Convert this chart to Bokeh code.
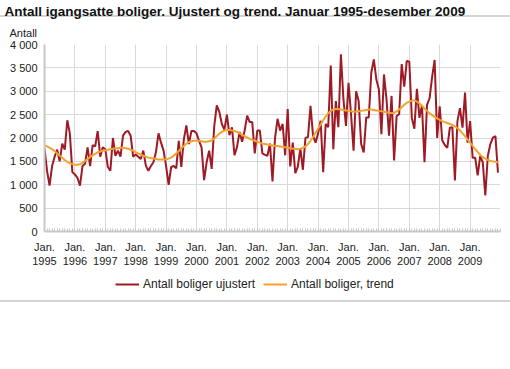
from bokeh.plotting import figure
from bokeh.layouts import column
from bokeh.models import Range1d, FixedTicker, Legend, LegendItem, Title
from bokeh.embed import file_html
from bokeh.resources import INLINE

title_text = "Antall igangsatte boliger. Ujustert og trend. Januar 1995-desember 2009"
y_title = "Antall"
years = list(range(1995, 2010))
x_tick_labels = ["Jan.\n" + str(y) for y in years]
y_ticks = [0, 500, 1000, 1500, 2000, 2500, 3000, 3500, 4000]
y_tick_labels = ["0", "500", "1 000", "1 500", "2 000", "2 500", "3 000", "3 500", "4 000"]
series_names = ["Antall boliger ujustert", "Antall boliger, trend"]

ujustert = [
    1780, 1300, 980, 1400, 1600, 1750, 1500, 1880, 1750, 2380, 2100, 1270,
    1220, 1150, 980, 1400, 1450, 1800, 1400, 1850, 1820, 2150, 1600, 1800,
    1760, 1380, 1300, 2000, 1620, 1730, 1600, 2050, 2130, 2150, 2050, 1600,
    1650, 1600, 1550, 1730, 1410, 1300, 1400, 1480, 1700, 2100, 1900, 1730,
    1400, 1000, 1380, 1400, 1350, 1940, 1380, 1970, 2270, 1870, 2150, 2150,
    2100, 1940, 1800, 1100, 1480, 1730, 1340, 2250, 2700, 2560, 2300, 2180,
    2500, 2060, 2230, 1630, 1810, 2130, 1920, 2160, 2480, 2340, 2340, 1670,
    2160, 2160, 1670, 1640, 1620, 1880, 1070, 2000, 2410, 2160, 2300, 1630,
    2620, 1390, 1900, 1250, 1390, 1780, 1320, 2000, 2020, 2690, 2050, 1900,
    2100, 2370, 1270, 2300, 2230, 3550, 1760, 2790, 2230, 3790, 2830, 2260,
    3180, 2510, 1730, 3000, 2790, 1870, 1690, 2440, 2440, 3400, 3680, 3250,
    3040, 2080, 3360, 2830, 2050, 2900, 1520, 2470, 2510, 3580, 3100, 3650,
    3630, 2430, 2200, 3050, 2430, 2700, 1480, 2710, 2850, 3300, 3670, 2000,
    2680, 1950, 1850, 1790, 2220, 2230, 1090, 2360, 2640, 2220, 2970, 1900,
    2360, 1580, 1580, 1200, 1620, 1480, 770, 1620, 1870, 2010, 2040, 1260,
]

trend = [
    1840, 1820, 1790, 1760, 1720, 1670, 1620, 1580, 1530, 1490, 1460, 1440,
    1430, 1430, 1440, 1470, 1510, 1550, 1590, 1630, 1660, 1690, 1710, 1730,
    1740, 1750, 1760, 1770, 1780, 1780, 1790, 1790, 1780, 1770, 1750, 1730,
    1700, 1670, 1650, 1620, 1600, 1580, 1570, 1560, 1550, 1540, 1540, 1540,
    1540, 1560, 1580, 1620, 1670, 1720, 1780, 1830, 1880, 1910, 1930, 1940,
    1940, 1940, 1930, 1920, 1920, 1930, 1950, 1990, 2040, 2090, 2130, 2160,
    2170, 2170, 2160, 2150, 2130, 2100, 2070, 2040, 2010, 1980, 1960, 1940,
    1920, 1900, 1880, 1870, 1860, 1850, 1840, 1830, 1830, 1820, 1810, 1800,
    1790, 1780, 1770, 1770, 1760, 1770, 1790, 1820, 1870, 1940, 2020, 2110,
    2200, 2290, 2380, 2460, 2530, 2580, 2610, 2620, 2620, 2610, 2600, 2590,
    2580, 2570, 2560, 2560, 2570, 2580, 2590, 2600, 2610, 2610, 2600, 2590,
    2580, 2570, 2560, 2550, 2540, 2530, 2540, 2570, 2610, 2660, 2710, 2750,
    2780, 2800, 2800, 2780, 2740, 2690, 2630, 2580, 2530, 2490, 2450, 2420,
    2390, 2360, 2340, 2320, 2300, 2280, 2250, 2210, 2160, 2100, 2040, 1970,
    1900, 1830, 1760, 1700, 1640, 1590, 1560, 1530, 1510, 1500, 1490, 1480,
]

months = [years[0] + i / 12 for i in range(len(ujustert))]

FONT = "Liberation Sans"
GRID = "#d9d9d9"
AXIS = "#c8c8c8"
TXT = "#222222"
RED = "#9e1b25"
ORANGE = "#f5a12e"
RULE = "#d4d4d4"

# ---------------- main chart ----------------
p = figure(frame_width=456, frame_height=187, output_backend="svg",
           toolbar_location=None, title=None,
           x_range=Range1d(1995, 2010), y_range=Range1d(0, 4000),
           min_border_left=44, min_border_right=10, min_border_top=44,
           min_border_bottom=39)
p.outline_line_color = None
p.background_fill_color = "white"
p.border_fill_color = None
p.styles = {
    "background-color": "white",
    "background-image": f"linear-gradient({RULE},{RULE})",
    "background-size": "100% 2px",
    "background-position": "0 15px",
    "background-repeat": "no-repeat",
}

p.xaxis.ticker = FixedTicker(ticks=years, minor_ticks=months + [2010])
p.xaxis.major_label_overrides = {y: lab for y, lab in zip(years, x_tick_labels)}
p.xaxis.axis_line_color = AXIS
p.xaxis.axis_line_width = 2
p.xaxis.major_tick_line_color = None
p.xaxis.major_tick_out = 0
p.xaxis.major_tick_in = 0
p.xaxis.minor_tick_in = 3
p.xaxis.minor_tick_out = 0
p.xaxis.minor_tick_line_color = AXIS
p.xaxis.major_label_text_font = FONT
p.xaxis.major_label_text_font_size = "11px"
p.xaxis.major_label_text_color = TXT
p.xaxis.major_label_standoff = 9

p.yaxis.ticker = FixedTicker(ticks=y_ticks)
p.yaxis.major_label_overrides = {t: lab for t, lab in zip(y_ticks, y_tick_labels)}
p.yaxis.axis_line_color = AXIS
p.yaxis.axis_line_width = 2
p.yaxis.major_tick_line_color = None
p.yaxis.major_tick_out = 0
p.yaxis.major_tick_in = 0
p.yaxis.minor_tick_line_color = None
p.yaxis.major_label_text_font = FONT
p.yaxis.major_label_text_font_size = "11px"
p.yaxis.major_label_text_color = TXT
p.yaxis.major_label_standoff = 7

p.xgrid.ticker = FixedTicker(ticks=years)
p.ygrid.ticker = FixedTicker(ticks=y_ticks)
p.xgrid.grid_line_color = GRID
p.ygrid.grid_line_color = GRID

p.line(months, ujustert, line_color=RED, line_width=2)
p.line(months, trend, line_color=ORANGE, line_width=2)

p.add_layout(Title(text=y_title, align="left", offset=-35, standoff=11,
                   text_font=FONT, text_font_size="11px", text_color=TXT,
                   text_font_style="normal"), "above")
p.add_layout(Title(text=title_text, align="left", offset=-40, standoff=1,
                   text_font=FONT, text_font_size="13.5px", text_font_style="bold",
                   text_color="#111111"), "above")

# ---------------- legend strip (same series, ranges keep them out of view) ----
lg = figure(width=510, height=99, output_backend="svg", toolbar_location=None,
            title=None, x_axis_type=None, y_axis_type=None,
            x_range=Range1d(0, 1), y_range=Range1d(0, 1),
            min_border_left=0, min_border_right=0, min_border_top=0,
            min_border_bottom=0)
lg.outline_line_color = None
lg.background_fill_color = None
lg.border_fill_color = None
lg.xgrid.visible = False
lg.ygrid.visible = False
lg.styles = {
    "background-color": "white",
    "background-image": f"linear-gradient({RULE},{RULE})",
    "background-size": "100% 2px",
    "background-position": "0 30px",
    "background-repeat": "no-repeat",
}
k1 = lg.line(months, ujustert, line_color=RED, line_width=2)
k2 = lg.line(months, trend, line_color=ORANGE, line_width=2)
legend = Legend(items=[LegendItem(label=series_names[0], renderers=[k1]),
                       LegendItem(label=series_names[1], renderers=[k2])],
                orientation="horizontal", location=(71, 77),
                border_line_color=None, background_fill_alpha=0,
                label_text_font=FONT, label_text_font_size="12px",
                label_text_color=TXT, glyph_width=24, glyph_height=16,
                label_standoff=4, spacing=8, padding=0, margin=0)
lg.add_layout(legend, "center")

layout = column(p, lg, spacing=0)
open("out.html", "w").write(file_html(layout, INLINE))
